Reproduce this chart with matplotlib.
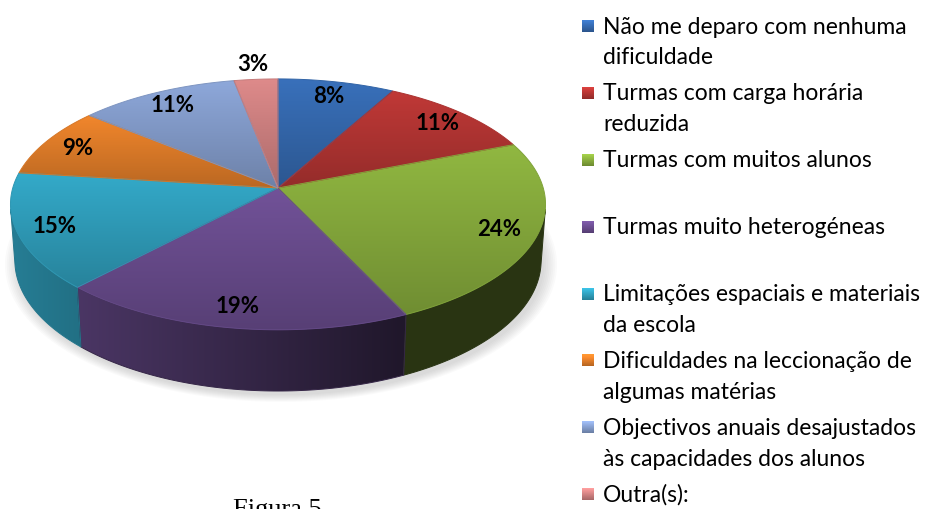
import numpy as np
import matplotlib
matplotlib.use('Agg')
import matplotlib.pyplot as plt
from matplotlib.patches import Polygon

# survey answers (%), in drawing order starting at 12 o'clock, clockwise
values = [8, 11, 24, 19, 15, 9, 11, 3]
labels = ['Não me deparo com nenhuma\ndificuldade',
          'Turmas com carga horária\nreduzida',
          'Turmas com muitos alunos',
          'Turmas muito heterogéneas',
          'Limitações espaciais e materiais\nda escola',
          'Dificuldades na leccionação de\nalgumas matérias',
          'Objectivos anuais desajustados\nàs capacidades dos alunos',
          'Outra(s):']
colors = ['#366BB2', '#B73634', '#8AAF3E', '#6C4E91',
          '#31A2C0', '#E6802A', '#87A0D0', '#D48484']

# 3d pie camera
CX, CY = 278, 189
F = 1801.0
DIST = 6.79
ELEV = np.radians(27.7)
H = 0.241
S, C = np.sin(ELEV), np.cos(ELEV)


def project(x, y, z):
    depth = DIST + y * C - z * S
    return CX + F * x / depth, CY - F * (y * S + z * C) / depth


def rgb(hexcol):
    return np.array(matplotlib.colors.to_rgb(hexcol))


def grad_fill(ax, xs, ys, col, fac_fn, zorder):
    pts = np.column_stack([xs, ys])
    x0, x1, y0, y1 = xs.min(), xs.max(), ys.min(), ys.max()
    nx, ny = int(x1 - x0) + 2, int(y1 - y0) + 2
    gx, gy = np.meshgrid(np.linspace(x0, x1, nx), np.linspace(y0, y1, ny))
    fac = fac_fn(gx, gy, y0, y1)
    img = np.clip(col[None, None, :] * fac[..., None], 0, 1)
    im = ax.imshow(img, extent=(x0, x1, y1, y0), origin='upper',
                   zorder=zorder, interpolation='bilinear', aspect='auto')
    clip = Polygon(pts, closed=True, facecolor='none', edgecolor='none',
                   transform=ax.transData)
    im.set_clip_path(clip)
    mid = np.clip(col * fac.mean(), 0, 1)
    ax.add_patch(Polygon(pts, closed=True, facecolor='none', edgecolor=mid,
                         lw=0.7, zorder=zorder + 0.1))


def side_fac(gx, gy, y0, y1):
    return np.clip(0.75 - 0.45 * (gx - 30) / 370, 0.3, 0.8)


def top_fac(gx, gy, y0, y1):
    return 1.05 - 0.24 * (gy - y0) / max(y1 - y0, 1)


fig = plt.figure(figsize=(9.36, 5.10), dpi=100)
ax = fig.add_axes([0, 0, 1, 1])

frac = np.array(values, dtype=float) / sum(values)
edges = np.concatenate([[0], np.cumsum(frac)]) * 360

# soft shadow under the pie
th = np.radians(np.linspace(0, 360, 200))
bx, by = project(np.sin(th), np.cos(th), -H)
ecx, ecy = bx.mean(), by.mean()
for k in range(8):
    sc = 1.0 + 0.007 * k
    ax.fill(ecx + (bx - ecx) * sc + 3, ecy + (by - ecy) * sc + 4,
            color='#808080', alpha=0.04, lw=0, zorder=1)

# only the front part of the rim faces the camera
t_lo = np.degrees(np.arccos(-1 / (DIST * C)))
t_hi = 360 - t_lo

for i in range(len(values)):
    a0, a1 = edges[i], edges[i + 1]
    col = rgb(colors[i])
    w0, w1 = max(a0, t_lo), min(a1, t_hi)
    if w1 > w0:
        t = np.radians(np.linspace(w0, w1, 80))
        tx, ty = project(np.sin(t), np.cos(t), 0)
        bx2, by2 = project(np.sin(t), np.cos(t), -H)
        grad_fill(ax, np.concatenate([tx, bx2[::-1]]),
                  np.concatenate([ty, by2[::-1]]), col, side_fac, 2)

for i in range(len(values)):
    a0, a1 = edges[i], edges[i + 1]
    col = rgb(colors[i])
    t = np.radians(np.linspace(a0, a1, 80))
    tx, ty = project(np.sin(t), np.cos(t), 0)
    grad_fill(ax, np.concatenate([[CX], tx]), np.concatenate([[CY], ty]),
              col, top_fac, 3)

    # percentage label
    am = np.radians((a0 + a1) / 2)
    r = 1.17 if values[i] < 5 else 0.86
    lx, ly = project(r * np.sin(am), r * np.cos(am), 0)
    ax.text(lx, ly, '%d%%' % values[i], ha='center', va='center',
            fontsize=16, fontweight='bold', family='Lato', color='black',
            zorder=5)

# legend
lx0, ly0 = 582, 27
step, line_h = 66.9, 31
for i, lab in enumerate(labels):
    y = ly0 + i * step
    col = rgb(colors[i])
    sq = np.linspace(1.2, 0.8, 12)
    img = np.clip(col[None, None, :] * sq[:, None, None] * np.ones((12, 12, 1)), 0, 1)
    ax.imshow(img, extent=(lx0, lx0 + 12, y + 6, y - 6), origin='upper',
              zorder=4, aspect='auto', interpolation='bilinear')
    for j, line in enumerate(lab.split('\n')):
        ax.text(603, y + j * line_h, line, ha='left', va='center',
                fontsize=16.5, family='Lato', color='black')

ax.text(277, 499, 'Figura 5', ha='center', va='top', fontsize=19,
        family='Liberation Serif', color='black')

ax.set_xlim(0, 936)
ax.set_ylim(510, 0)
ax.axis('off')
fig.savefig('out.png', dpi=100)
